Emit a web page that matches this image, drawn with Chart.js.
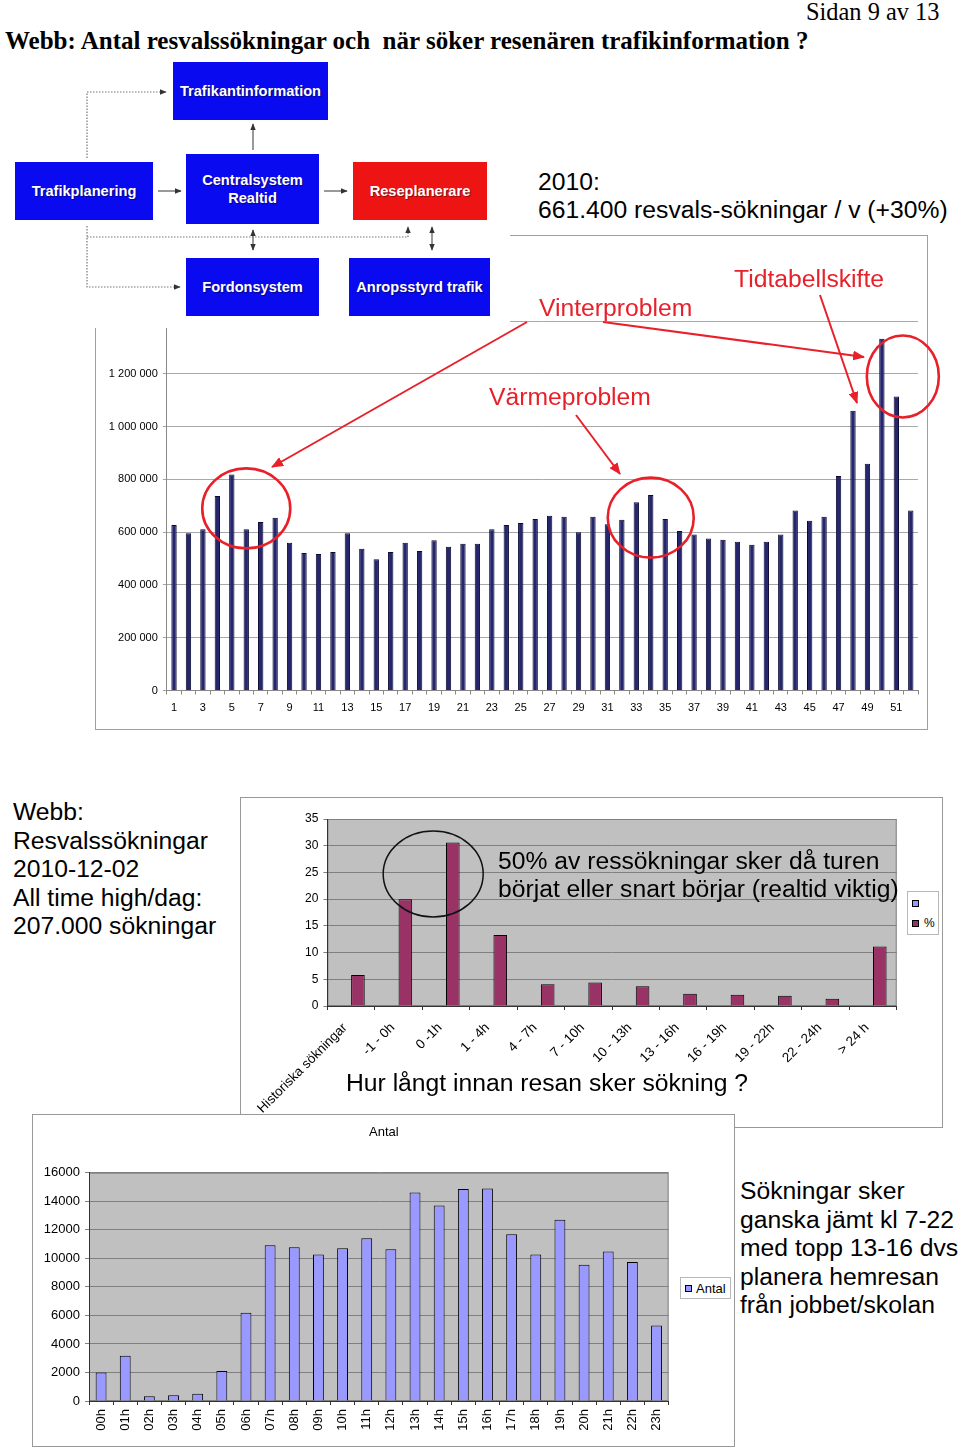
<!DOCTYPE html>
<html lang="sv">
<head>
<meta charset="UTF-8">
<title>Webb: Antal resvalssökningar</title>
<script src="https://cdn.jsdelivr.net/npm/chart.js@4.4.3/dist/chart.umd.min.js"></script>
<style>
  body { margin: 0; width: 960px; height: 1448px; position: relative; overflow: hidden; background: #fff;
         font-family: Arial, "Liberation Sans", sans-serif; color: #000; }
  .abs { position: absolute; white-space: pre; }
  .frame { position: absolute; border: 1px solid #a0a0a0; box-sizing: border-box; background: #fff; }
  .frame canvas { position: absolute; left: 0; top: 0; }
  .serif { font-family: "Times New Roman", "Liberation Serif", serif; font-size: 25px; line-height: 28px; }
  .big { font-size: 24.7px; line-height: 28px; }
  .red { color: #e8202a; }
  #diagram { position: absolute; left: 0; top: 55px; width: 510px; height: 273px; background: #fff; z-index: 4; }
  .box { position: absolute; background: #0a0af0; color: #fff; font-weight: bold; font-size: 14.6px; line-height: 18px;
         display: flex; align-items: center; justify-content: center; text-align: center;
         text-shadow: 1px 1px 1px rgba(0,0,0,0.45); }
  .legend { position: absolute; border: 1px solid #b8b8b8; background: #fff; box-sizing: border-box; font-size: 12px; }
  .sw { position: absolute; width: 5px; height: 5px; border: 1px solid #000; }
</style>
</head>
<body>

<div class="abs serif" style="left:806px; top:-2px; font-size:24.4px;">Sidan 9 av 13</div>
<div class="abs serif" style="left:5px; top:27px; font-weight:bold;">Webb: Antal resvalssökningar och  när söker resenären trafikinformation ?</div>

<div id="diagram">
  <svg width="510" height="273" style="position:absolute;left:0;top:0">
    <defs>
      <marker id="ah" viewBox="0 0 10 10" refX="9" refY="5" markerWidth="6" markerHeight="6" orient="auto-start-reverse">
        <path d="M0,1 L10,5 L0,9 z" fill="#333"/>
      </marker>
    </defs>
    <g fill="none" stroke="#777" stroke-width="1.2" stroke-dasharray="1.5 1.5">
      <polyline points="87,103 87,37 166,37" marker-end="url(#ah)"/>
      <polyline points="87,171 87,232 180,232" marker-end="url(#ah)"/>
      <polyline points="87,182 408,182 408,172" marker-end="url(#ah)"/>
    </g>
    <g fill="none" stroke="#555" stroke-width="1.2">
      <line x1="253" y1="95" x2="253" y2="69" marker-end="url(#ah)"/>
      <line x1="158" y1="136" x2="181" y2="136" marker-end="url(#ah)"/>
      <line x1="324" y1="136" x2="347" y2="136" marker-end="url(#ah)"/>
      <line x1="253" y1="175" x2="253" y2="195" marker-start="url(#ah)" marker-end="url(#ah)"/>
      <line x1="432" y1="172" x2="432" y2="195" marker-start="url(#ah)" marker-end="url(#ah)"/>
    </g>
  </svg>
  <div class="box" style="left:173px; top:7px; width:155px; height:58px;">Trafikantinformation</div>
  <div class="box" style="left:15px; top:107px; width:138px; height:58px;">Trafikplanering</div>
  <div class="box" style="left:186px; top:99px; width:133px; height:70px;">Centralsystem<br>Realtid</div>
  <div class="box" style="left:353px; top:107px; width:134px; height:58px; background:#ee1414;">Reseplanerare</div>
  <div class="box" style="left:186px; top:203px; width:133px; height:58px;">Fordonsystem</div>
  <div class="box" style="left:349px; top:203px; width:141px; height:58px;">Anropsstyrd trafik</div>
</div>

<div class="abs big" style="left:538px; top:168px;">2010:
661.400 resvals-sökningar / v (+30%)</div>

<div class="frame" style="left:95px; top:235px; width:833px; height:495px;"></div>
<canvas id="weekChart" width="845" height="493" style="position:absolute; left:96px; top:236px; z-index:1;"></canvas>
<div class="abs big red" style="left:734px; top:265px; z-index:5;">Tidtabellskifte</div>
<div class="abs big red" style="left:539px; top:294px; z-index:5;">Vinterproblem</div>
<div class="abs big red" style="left:489px; top:383px; z-index:5;">Värmeproblem</div>

<svg width="960" height="760" style="position:absolute; left:0; top:0; z-index:6; pointer-events:none;">
  <defs>
    <marker id="rh" viewBox="0 0 12 10" refX="11" refY="5" markerWidth="6" markerHeight="5" orient="auto">
      <path d="M0,0 L12,5 L0,10 z" fill="#e8202a"/>
    </marker>
  </defs>
  <g stroke="#e8202a" stroke-width="2" fill="none">
    <line x1="527" y1="322" x2="272" y2="467" marker-end="url(#rh)"/>
    <line x1="603" y1="322" x2="864" y2="357" marker-end="url(#rh)"/>
    <line x1="820" y1="295" x2="857" y2="403" marker-end="url(#rh)"/>
    <line x1="576" y1="415" x2="620" y2="474" marker-end="url(#rh)"/>
  </g>
</svg>

<div class="abs big" style="left:13px; top:798px; line-height:28.5px;">Webb:
Resvalssökningar
2010-12-02
All time high/dag:
207.000 sökningar</div>

<div class="frame" style="left:240px; top:797px; width:703px; height:331px; border-color:#999;">
  <canvas id="leadChart" width="701" height="329"></canvas>
</div>
<div class="abs big" style="left:498px; top:847px; z-index:5;">50% av ressökningar sker då turen
börjat eller snart börjar (realtid viktig)</div>
<div class="abs big" style="left:346px; top:1069px; z-index:5;">Hur långt innan resan sker sökning ?</div>
<div class="legend" style="left:907px; top:891px; width:32px; height:44px; z-index:5;">
  <div class="sw" style="left:4px; top:8px; background:#9999ff;"></div>
  <div class="sw" style="left:4px; top:28px; background:#993366;"></div>
  <div class="abs" style="left:16px; top:24px; font-size:12px; line-height:14px;">%</div>
</div>

<div class="frame" style="left:32px; top:1114px; width:703px; height:333px; border-color:#999; z-index:7;">
  <canvas id="hourChart" width="701" height="331"></canvas>
  <div class="abs" style="left:336px; top:9px; font-size:13px; line-height:15px;">Antal</div>
  <div class="legend" style="left:647px; top:162px; width:51px; height:22px;">
    <div class="sw" style="left:4px; top:7px; background:#9999ff;"></div>
    <div class="abs" style="left:15px; top:3px; font-size:13px; line-height:15px;">Antal</div>
  </div>
</div>
<div class="abs big" style="left:740px; top:1177px; line-height:28.5px;">Sökningar sker
ganska jämt kl 7-22
med topp 13-16 dvs
planera hemresan
från jobbet/skolan</div>

<script>
// --- data: weekly travel-planner searches 2010 ---
const weeks = Array.from({ length: 52 }, (_, i) => String(i + 1));
const weeklySearches = [
  627000, 596000, 611000, 737000, 818000, 611000, 638000, 655000, 560000, 521000,
  517000, 525000, 596000, 537000, 497000, 525000, 560000, 529000, 569000, 545000,
  556000, 556000, 611000, 627000, 635000, 650000, 662000, 658000, 600000, 658000,
  630000, 647000, 713000, 741000, 650000, 604000, 591000, 576000, 571000, 564000,
  552000, 564000, 591000, 682000, 643000, 658000, 813000, 1060000, 859000, 1333000,
  1114000, 682000
];

// --- data: how long before the trip the search is made (%) ---
const leadTimes = ["Historiska sökningar", "-1 - 0h", "0 -1h", "1 - 4h", "4 - 7h", "7 - 10h",
  "10 - 13h", "13 - 16h", "16 - 19h", "19 - 22h", "22 - 24h", "> 24 h"];
const leadEmpty = [];
const leadShare = [5.8, 20.0, 30.6, 13.3, 4.05, 4.4, 3.7, 2.3, 2.1, 1.93, 1.37, 11.15];

// --- data: searches per hour of day ---
const hours = ["00h", "01h", "02h", "03h", "04h", "05h", "06h", "07h", "08h", "09h", "10h", "11h",
  "12h", "13h", "14h", "15h", "16h", "17h", "18h", "19h", "20h", "21h", "22h", "23h"];
const hourlySearches = [2000, 3180, 330, 400, 510, 2100, 6190, 10910, 10770, 10260, 10700, 11400,
  10630, 14620, 13710, 14860, 14900, 11680, 10260, 12710, 9550, 10470, 9740, 5300];

Chart.defaults.font.family = 'Arial, "Liberation Sans", sans-serif';
Chart.defaults.color = '#000';
Chart.defaults.animation = false;
Chart.defaults.events = [];
Chart.defaults.plugins.legend.display = false;
Chart.defaults.plugins.tooltip.enabled = false;

// fill the plot area grey and frame it, like the Excel originals
const plotBg = {
  id: 'plotBg',
  beforeDraw(chart, args, opts) {
    if (!opts.color) return;
    const { ctx, chartArea: a } = chart;
    ctx.save();
    ctx.fillStyle = opts.color;
    ctx.fillRect(a.left, a.top, a.width, a.height);
    ctx.strokeStyle = opts.border;
    ctx.lineWidth = 1;
    ctx.strokeRect(a.left + 0.5, a.top + 0.5, a.width - 1, a.height - 1);
    ctx.restore();
  }
};

// ellipses drawn around bars, placed through the scales
const rings = {
  id: 'rings',
  afterDatasetsDraw(chart, args, opts) {
    const { ctx, scales: { x, y } } = chart;
    ctx.save();
    ctx.strokeStyle = opts.color;
    ctx.lineWidth = opts.width;
    for (const r of opts.items) {
      ctx.beginPath();
      ctx.ellipse(x.getPixelForValue(r.at), y.getPixelForValue(r.value), r.rx, r.ry, 0, 0, Math.PI * 2);
      ctx.stroke();
    }
    ctx.restore();
  }
};

const fixW = w => s => { s.width = w; };
const fixH = h => s => { s.height = h; s.paddingLeft = 0; s.paddingRight = 0; };
const spaced = v => String(v).replace(/\B(?=(\d{3})+(?!\d))/g, ' ');

new Chart(document.getElementById('weekChart'), {
  type: 'bar',
  data: {
    labels: weeks,
    datasets: [{
      data: weeklySearches,
      backgroundColor: '#26266f',
      borderColor: '#0a0a33',
      borderWidth: 1,
      barPercentage: 0.37,
      categoryPercentage: 1
    }]
  },
  options: {
    responsive: false,
    layout: { padding: { left: 0, right: 23, top: 85, bottom: 0 } },
    scales: {
      x: {
        afterFit: fixH(38.5),
        grid: { drawOnChartArea: false, tickLength: 4, color: '#888' },
        border: { color: '#888' },
        ticks: {
          autoSkip: false, maxRotation: 0, padding: 7, font: { size: 11 },
          callback(v, i) { return i % 2 ? '' : this.getLabelForValue(v); }
        }
      },
      y: {
        min: 0, max: 1400000,
        afterFit: fixW(70.8),
        grid: { color: '#a8a8a8', tickLength: 4 },
        border: { color: '#888' },
        ticks: { stepSize: 200000, padding: 5, font: { size: 11 }, callback: spaced }
      }
    },
    plugins: {
      rings: {
        color: '#e8202a', width: 2.6,
        items: [
          { at: 5, value: 690000, rx: 44, ry: 40 },
          { at: 33, value: 655000, rx: 43, ry: 40 },
          { at: 50.45, value: 1190000, rx: 36, ry: 41 }
        ]
      }
    }
  },
  plugins: [rings]
});

new Chart(document.getElementById('leadChart'), {
  type: 'bar',
  data: {
    labels: leadTimes,
    datasets: [
      { label: '', data: leadEmpty, backgroundColor: '#9999ff' },
      { label: '%', data: leadShare, backgroundColor: '#993366', borderColor: '#000', borderWidth: 1 }
    ]
  },
  options: {
    responsive: false,
    datasets: { bar: { barPercentage: 1, categoryPercentage: 0.574 } },
    layout: { padding: { left: 0, right: 45.3, top: 21, bottom: 0 } },
    scales: {
      x: {
        afterFit: fixH(121),
        grid: { drawOnChartArea: false, tickLength: 4, color: '#333' },
        border: { color: '#333' },
        ticks: { autoSkip: false, minRotation: 45, maxRotation: 45, padding: 10, labelOffset: -6, font: { size: 13.4 } }
      },
      y: {
        min: 0, max: 35,
        afterFit: fixW(86.4),
        grid: { color: '#808080', tickLength: 4 },
        border: { color: '#333' },
        ticks: { stepSize: 5, padding: 5, font: { size: 12 } }
      }
    },
    plugins: {
      plotBg: { color: '#c0c0c0', border: '#808080' },
      rings: { color: '#111', width: 1.5, items: [{ at: 1.73, value: 24.7, rx: 50, ry: 43 }] }
    }
  },
  plugins: [plotBg, rings]
});

new Chart(document.getElementById('hourChart'), {
  type: 'bar',
  data: {
    labels: hours,
    datasets: [{
      label: 'Antal', data: hourlySearches, backgroundColor: '#9999ff',
      borderColor: '#000', borderWidth: 1, barPercentage: 0.45, categoryPercentage: 1
    }]
  },
  options: {
    responsive: false,
    layout: { padding: { left: 0, right: 65.4, top: 57.7, bottom: 0 } },
    scales: {
      x: {
        afterFit: fixH(45),
        grid: { drawOnChartArea: false, tickLength: 4, color: '#333' },
        border: { color: '#333' },
        ticks: { autoSkip: false, minRotation: 90, maxRotation: 90, padding: 4, font: { size: 13 } }
      },
      y: {
        min: 0, max: 16000,
        afterFit: fixW(56),
        grid: { color: '#808080', tickLength: 4 },
        border: { color: '#333' },
        ticks: { stepSize: 2000, padding: 5, font: { size: 13 }, callback: v => String(v) }
      }
    },
    plugins: { plotBg: { color: '#c0c0c0', border: '#808080' } }
  },
  plugins: [plotBg]
});
</script>
</body>
</html>
